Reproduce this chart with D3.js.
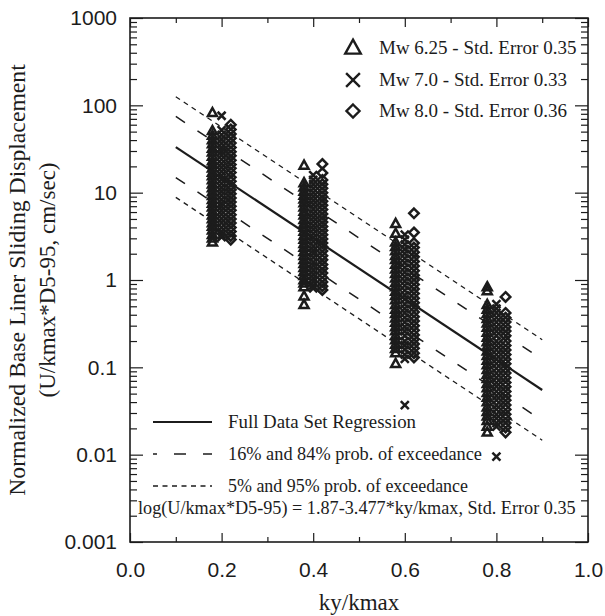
<!DOCTYPE html>
<html>
<head>
<meta charset="utf-8">
<script src="https://cdn.jsdelivr.net/npm/d3@7"></script>
<style>
  body { margin: 0; background: #fff; }
  svg { display: block; }
</style>
</head>
<body>
<svg id="chart" width="605" height="616"></svg>
<script>
// DATA
const kyLevels = [0.2, 0.4, 0.6, 0.8];

// normalized displacement per ky level, one list per magnitude
const mw625 = [
  [82, 51, 45, 40, 36, 32, 29, 26, 23, 21, 19, 17, 15.5, 14, 12.5, 11.3, 10.2, 9.2, 8.3, 7.5, 6.8, 6.1, 5.5, 5.0, 4.5, 4.1, 3.7, 3.3, 3.0, 2.7],
  [20.5, 12.9, 11.5, 10.3, 9.3, 8.4, 7.6, 6.8, 6.1, 5.5, 4.9, 4.4, 4.0, 3.6, 3.2, 2.9, 2.6, 2.35, 2.1, 1.9, 1.7, 1.53, 1.38, 1.24, 1.12, 1.0, 0.92, 0.83, 0.65, 0.52],
  [4.4, 3.4, 2.7, 2.4, 2.15, 1.9, 1.7, 1.5, 1.33, 1.18, 1.05, 0.93, 0.83, 0.74, 0.66, 0.59, 0.52, 0.46, 0.41, 0.365, 0.325, 0.29, 0.26, 0.23, 0.205, 0.183, 0.163, 0.146, 0.11],
  [0.83, 0.75, 0.52, 0.46, 0.41, 0.36, 0.32, 0.285, 0.25, 0.22, 0.195, 0.173, 0.153, 0.136, 0.12, 0.106, 0.094, 0.083, 0.074, 0.065, 0.058, 0.051, 0.045, 0.04, 0.035, 0.031, 0.0275, 0.0245, 0.021, 0.018]
];
const mw70 = [
  [76, 52, 46, 41, 37, 33, 30, 27, 24, 21.5, 19.5, 17.5, 15.8, 14.2, 12.8, 11.5, 10.4, 9.4, 8.4, 7.6, 6.9, 6.2, 5.6, 5.0, 4.5, 4.0, 3.6, 3.3, 3.1],
  [15.9, 14, 12.5, 11.2, 10, 9.0, 8.1, 7.3, 6.5, 5.8, 5.2, 4.7, 4.2, 3.8, 3.4, 3.05, 2.75, 2.45, 2.2, 2.0, 1.8, 1.6, 1.45, 1.3, 1.17, 1.05, 0.95, 0.86, 0.8],
  [3.3, 2.9, 2.55, 2.25, 2.0, 1.77, 1.57, 1.39, 1.23, 1.09, 0.97, 0.86, 0.76, 0.67, 0.6, 0.53, 0.47, 0.42, 0.37, 0.33, 0.29, 0.26, 0.23, 0.2, 0.18, 0.16, 0.14, 0.125, 0.037],
  [0.53, 0.47, 0.42, 0.37, 0.33, 0.29, 0.26, 0.23, 0.2, 0.178, 0.158, 0.14, 0.124, 0.11, 0.097, 0.086, 0.076, 0.067, 0.06, 0.053, 0.047, 0.042, 0.037, 0.033, 0.029, 0.026, 0.023, 0.021, 0.0095]
];
const mw80 = [
  [60, 53, 47, 42, 37, 33, 29.5, 26.5, 23.5, 21, 19, 17, 15, 13.5, 12, 10.8, 9.7, 8.7, 7.8, 7.0, 6.3, 5.6, 5.0, 4.5, 4.0, 3.6, 3.2, 2.9],
  [21.3, 16.8, 14, 12.5, 11.2, 10, 9.0, 8.0, 7.2, 6.4, 5.7, 5.1, 4.6, 4.1, 3.7, 3.3, 2.95, 2.65, 2.4, 2.15, 1.9, 1.7, 1.5, 1.35, 1.2, 1.07, 0.95, 0.85, 0.77],
  [5.8, 3.5, 2.65, 2.35, 2.08, 1.84, 1.63, 1.45, 1.28, 1.13, 1.0, 0.89, 0.79, 0.7, 0.62, 0.55, 0.49, 0.43, 0.38, 0.34, 0.3, 0.265, 0.235, 0.21, 0.185, 0.165, 0.145, 0.13],
  [0.64, 0.42, 0.37, 0.33, 0.29, 0.26, 0.23, 0.2, 0.178, 0.158, 0.14, 0.124, 0.11, 0.097, 0.086, 0.076, 0.067, 0.06, 0.053, 0.047, 0.042, 0.037, 0.033, 0.029, 0.026, 0.023, 0.0205, 0.018]
];
const seriesLabels = ["Mw 6.25 - Std. Error 0.35", "Mw 7.0 - Std. Error 0.33", "Mw 8.0 - Std. Error 0.36"];

// regression: log(U/kmax*D5-95) = 1.87 - 3.477*ky/kmax
const regIntercept = 1.87;
const regSlope = -3.477;
const regStdError = 0.35;
const regRange = [0.1, 0.9];
const bandZ = [0, 1, -1, 1.645, -1.645];
const lineLabels = ["Full Data Set Regression", "16% and 84% prob. of exceedance", "5% and 95% prob. of exceedance"];
const formulaLabel = "log(U/kmax*D5-95) = 1.87-3.477*ky/kmax, Std. Error 0.35";

const xTicks = [0, 0.2, 0.4, 0.6, 0.8, 1.0];
const xMinorTicks = [0.1, 0.3, 0.5, 0.7, 0.9];
const yTicks = [0.001, 0.01, 0.1, 1, 10, 100, 1000];

// LAYOUT
const width = 605, height = 616;
const margin = { top: 18, right: 17, bottom: 74, left: 130 };
const serif = "'Liberation Serif', 'Times New Roman', serif";
const sans = "'Liberation Sans', Arial, sans-serif";
const ink = "#1c1c1c";

const svg = d3.select("#chart");

const x = d3.scaleLinear().domain([0, 1]).range([margin.left, width - margin.right]);
const y = d3.scaleLog().domain([0.001, 1000]).range([height - margin.bottom, margin.top]);

const yMinor = [];
for (let e = -3; e < 3; e++) {
  for (let m = 2; m <= 9; m++) yMinor.push(m * Math.pow(10, e));
}

// MARKER SHAPES
const triangleShape = {
  draw(ctx, size) {
    const s = Math.sqrt(size);
    const h = s * 0.9;
    ctx.moveTo(0, -h * 0.6);
    ctx.lineTo(s / 2, h * 0.4);
    ctx.lineTo(-s / 2, h * 0.4);
    ctx.closePath();
  }
};
const timesShape = {
  draw(ctx, size) {
    const r = Math.sqrt(size) / 2;
    ctx.moveTo(-r, -r); ctx.lineTo(r, r);
    ctx.moveTo(r, -r); ctx.lineTo(-r, r);
  }
};
const diamondShape = {
  draw(ctx, size) {
    const r = Math.sqrt(size) / 2;
    ctx.moveTo(0, -r); ctx.lineTo(r, 0);
    ctx.lineTo(0, r); ctx.lineTo(-r, 0);
    ctx.closePath();
  }
};

const series = [
  { values: mw625, shape: triangleShape, offset: -0.02, size: 81, legendSize: 240 },
  { values: mw70, shape: timesShape, offset: 0, size: 64, legendSize: 190 },
  { values: mw80, shape: diamondShape, offset: 0.02, size: 90, legendSize: 170 }
];

// AXES (ticks inward on all four sides)
function tickAxis(axis, g) {
  g.call(axis).call(s => s.select(".domain").remove());
  g.selectAll(".tick line").attr("stroke", ink).attr("stroke-width", 1.2);
  g.selectAll(".tick text").attr("fill", ink).attr("font-family", sans).attr("font-size", 21);
}

const bottomY = height - margin.bottom;
tickAxis(d3.axisBottom(x).tickValues(xTicks).tickSize(-9).tickPadding(20).tickFormat(d3.format(".1f")),
  svg.append("g").attr("transform", `translate(0,${bottomY})`));
tickAxis(d3.axisBottom(x).tickValues(xMinorTicks).tickSize(-5).tickFormat(""),
  svg.append("g").attr("transform", `translate(0,${bottomY})`));
tickAxis(d3.axisTop(x).tickValues(xTicks).tickSize(-9).tickFormat(""),
  svg.append("g").attr("transform", `translate(0,${margin.top})`));
tickAxis(d3.axisTop(x).tickValues(xMinorTicks).tickSize(-5).tickFormat(""),
  svg.append("g").attr("transform", `translate(0,${margin.top})`));

tickAxis(d3.axisLeft(y).tickValues(yTicks).tickSize(-13).tickPadding(13).tickFormat(d3.format("~g")),
  svg.append("g").attr("transform", `translate(${margin.left},0)`));
tickAxis(d3.axisLeft(y).tickValues(yMinor).tickSize(-7).tickFormat(""),
  svg.append("g").attr("transform", `translate(${margin.left},0)`));
tickAxis(d3.axisRight(y).tickValues(yTicks).tickSize(-13).tickFormat(""),
  svg.append("g").attr("transform", `translate(${width - margin.right},0)`));
tickAxis(d3.axisRight(y).tickValues(yMinor).tickSize(-7).tickFormat(""),
  svg.append("g").attr("transform", `translate(${width - margin.right},0)`));

// frame
svg.append("rect")
  .attr("x", margin.left).attr("y", margin.top)
  .attr("width", width - margin.left - margin.right)
  .attr("height", height - margin.top - margin.bottom)
  .attr("fill", "none").attr("stroke", ink).attr("stroke-width", 1.6);

// REGRESSION LINES
const lineStyles = {
  0: { dash: null, w: 2.2 },
  1: { dash: "11,15", w: 1.5 },
  1.645: { dash: "5,4.5", w: 1.3 }
};
const line = d3.line().x(d => x(d[0])).y(d => y(d[1]));
svg.append("g")
  .selectAll("path")
  .data(bandZ)
  .join("path")
    .attr("d", z => line(regRange.map(k => [k, Math.pow(10, regIntercept + regSlope * k + z * regStdError)])))
    .attr("fill", "none")
    .attr("stroke", ink)
    .attr("stroke-width", z => lineStyles[Math.abs(z)].w)
    .attr("stroke-dasharray", z => lineStyles[Math.abs(z)].dash);

// SCATTER MARKERS
series.forEach(s => {
  const pts = [];
  s.values.forEach((vals, i) => vals.forEach(v => pts.push([kyLevels[i] + s.offset, v])));
  svg.append("g")
    .attr("fill", "none")
    .attr("stroke", ink)
    .attr("stroke-width", 2.5)
    .selectAll("path")
    .data(pts)
    .join("path")
      .attr("transform", d => `translate(${x(d[0])},${y(d[1])})`)
      .attr("d", d3.symbol().type(s.shape).size(s.size));
});

// TOP-RIGHT LEGEND
const legendTop = svg.append("g");
const legendRows = [48, 80, 111];
series.forEach((s, i) => {
  legendTop.append("path")
    .attr("transform", `translate(353,${legendRows[i]})`)
    .attr("d", d3.symbol().type(s.shape).size(s.legendSize))
    .attr("fill", "none").attr("stroke", ink).attr("stroke-width", 2.4);
  legendTop.append("text")
    .attr("x", 379).attr("y", legendRows[i] + 6)
    .attr("font-family", serif).attr("font-size", 19).attr("fill", ink)
    .text(seriesLabels[i]);
});

// BOTTOM-LEFT LEGEND
const legendBottom = svg.append("g");
const lineRows = [422, 454, 486];
const lineTextWidths = [188, 254, 240];
[0, 1, 1.645].forEach((z, i) => {
  legendBottom.append("line")
    .attr("x1", 153).attr("x2", 212)
    .attr("y1", lineRows[i]).attr("y2", lineRows[i])
    .attr("stroke", ink)
    .attr("stroke-width", lineStyles[z].w)
    .attr("stroke-dasharray", z === 1 ? "12,17" : lineStyles[z].dash)
    .attr("stroke-dashoffset", z === 1 ? 8 : 0);
  legendBottom.append("text")
    .attr("x", 228).attr("y", lineRows[i] + 6)
    .attr("font-family", serif).attr("font-size", 19).attr("fill", ink)
    .attr("textLength", lineTextWidths[i]).attr("lengthAdjust", "spacingAndGlyphs")
    .text(lineLabels[i]);
});
legendBottom.append("text")
  .attr("x", 138).attr("y", 514)
  .attr("font-family", serif).attr("font-size", 18.2).attr("fill", ink)
  .text(formulaLabel);

// AXIS TITLES
svg.append("text")
  .attr("x", x(0.5)).attr("y", 610)
  .attr("text-anchor", "middle")
  .attr("font-family", serif).attr("font-size", 23).attr("fill", ink)
  .text("ky/kmax");

const yTitle = svg.append("g")
  .attr("font-family", serif).attr("fill", ink)
  .attr("text-anchor", "middle");
yTitle.append("text")
  .attr("transform", `translate(25,${(margin.top + bottomY) / 2}) rotate(-90)`)
  .attr("font-size", 23.7)
  .text("Normalized Base Liner Sliding Displacement");
yTitle.append("text")
  .attr("transform", `translate(55,${(margin.top + bottomY) / 2}) rotate(-90)`)
  .attr("font-size", 23)
  .text("(U/kmax*D5-95, cm/sec)");
</script>
</body>
</html>
